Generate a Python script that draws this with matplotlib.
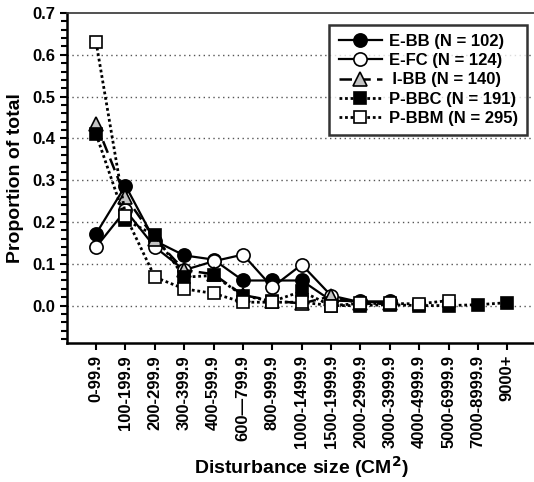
import numpy as np
import matplotlib.pyplot as plt
from matplotlib.ticker import MultipleLocator

plt.rcParams['font.family'] = ['Liberation Sans', 'DejaVu Sans']
plt.rcParams['font.weight'] = 'bold'

# categories (disturbance size classes)
size_classes = ['0-99.9', '100-199.9', '200-299.9', '300-399.9', '400-599.9',
                '600\u2014799.9', '800-999.9', '1000-1499.9', '1500-1999.9',
                '2000-2999.9', '3000-3999.9', '4000-4999.9', '5000-6999.9',
                '7000-8999.9', '9000+']

# proportion of total per size class
e_bb = [0.172, 0.287, 0.155, 0.120, 0.110, 0.060, 0.060, 0.060, 0.012, 0.010, 0.010]
e_fc = [0.140, 0.228, 0.140, 0.085, 0.106, 0.122, 0.044, 0.098, 0.024, 0.008, 0.008]
i_bb = [0.435, 0.260, 0.160, 0.085, 0.075, 0.025, 0.012, 0.005, 0.022, 0.005, 0.005]
p_bbc = [0.410, 0.205, 0.168, 0.068, 0.072, 0.024, 0.010, 0.034, 0.000, 0.000,
         0.002, 0.000, 0.000, 0.002, 0.007]
p_bbm = [0.630, 0.215, 0.068, 0.040, 0.029, 0.008, 0.008, 0.008, 0.000, 0.005,
         0.005, 0.004, 0.012]

labels = ['E-BB (N = 102)', 'E-FC (N = 124)', '\u2009I-BB (N = 140)',
          'P-BBC (N = 191)', 'P-BBM (N = 295)']

fig = plt.figure(figsize=(5.34, 4.82), dpi=100)
ax = fig.add_axes([0.125, 0.288, 0.880, 0.685])

x = np.arange(len(size_classes))
dots = (0, (1, 1))

ax.plot(x[:len(e_bb)], e_bb, '-', color='black', lw=1.6, marker='o', ms=9.5,
        mfc='black', mec='black', mew=1.2, label=labels[0])
ax.plot(x[:len(e_fc)], e_fc, '-', color='black', lw=1.6, marker='o', ms=9.5,
        mfc='white', mec='black', mew=1.2, label=labels[1])
ax.plot(x[:len(i_bb)], i_bb, linestyle=(0, (5, 2.5)), color='black', lw=1.8,
        marker='^', ms=9.5, mfc='#c4c4c4', mec='black', mew=1.2, label=labels[2])
ax.plot(x[:len(p_bbc)], p_bbc, linestyle=dots, color='black', lw=2,
        marker='s', ms=8.5, mfc='black', mec='black', mew=1.2, label=labels[3])
ax.plot(x[:len(p_bbm)], p_bbm, linestyle=dots, color='black', lw=2,
        marker='s', ms=8.5, mfc='white', mec='black', mew=1.2, label=labels[4])

ax.set_xlim(-1, 15)
ax.set_ylim(-0.09, 0.7)
ax.set_xticks(x)
ax.set_xticklabels(size_classes, rotation=90, fontsize=12, fontweight='bold')
ax.set_yticks(np.arange(0, 0.71, 0.1))
ax.set_yticklabels(['%.1f' % v for v in np.arange(0, 0.71, 0.1)],
                   fontsize=12, fontweight='bold')
ax.yaxis.set_minor_locator(MultipleLocator(0.02))
ax.tick_params(axis='both', which='major', direction='out', length=5, width=1.5)
ax.tick_params(axis='y', which='minor', direction='out', length=4, width=1.5)

for gy in np.arange(0, 0.61, 0.1):
    ax.axhline(gy, color='#555555', lw=1, linestyle=(0, (1, 2.5)), zorder=0)

for side in ['left', 'bottom']:
    ax.spines[side].set_linewidth(1.8)
ax.spines['right'].set_visible(False)
ax.spines['top'].set_linestyle((0, (3, 1)))
ax.spines['top'].set_color('#333333')
ax.spines['top'].set_linewidth(1.2)

ax.set_ylabel('Proportion of total', fontsize=14, fontweight='bold', labelpad=6)
ax.set_xlabel('Disturbance size (CM$^{\\mathbf{2}}$)', fontsize=14,
              fontweight='bold')
ax.xaxis.set_label_coords(0.5, -0.335)

leg = ax.legend(loc='upper right', bbox_to_anchor=(0.979, 0.964), fontsize=12,
                frameon=True, fancybox=False, edgecolor='black',
                handlelength=2.6, labelspacing=0.25, borderpad=0.55,
                handletextpad=0.4, borderaxespad=0)
leg.get_frame().set_linewidth(1.8)

plt.savefig('out.png', dpi=100)
